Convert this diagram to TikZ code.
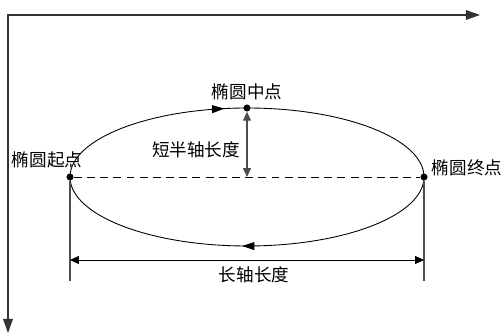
\documentclass[tikz,border=0pt]{standalone}
\usepackage{fontspec}
\newfontfamily\cjk{Noto Sans CJK SC}
\usetikzlibrary{positioning, arrows.meta, calc, decorations.markings}

\begin{document}
\begin{tikzpicture}[x=0.02cm, y=0.02cm,
  >={Triangle[length=5pt, width=4.5pt]},
  lbl/.style={font=\cjk\fontsize{10pt}{12pt}\selectfont, inner sep=0pt},
  pt/.style={circle, fill, inner sep=0pt, minimum size=4pt},
  ext/.style={draw=gray!60!black, line width=0.6pt},
  axis/.style={line width=0.6pt, draw=black!80,
    {Triangle[length=8pt, width=5.5pt]}-{Triangle[length=8pt, width=5.5pt]}},
  orbit/.style={line width=0.5pt, postaction={decorate}, decoration={markings,
    mark=at position 0.222 with {\arrow{Triangle[length=7pt, width=4.5pt]}},
    mark=at position 0.756 with {\arrow{Triangle[length=7pt, width=4.5pt]}}}},
]
  \useasboundingbox (0,0) rectangle (502,334);
  \coordinate (xe) at (480,319);
  \coordinate (ye) at (8,1);
  \draw[axis] (xe) -| (ye);

  \coordinate (C) at (247,157);
  \draw[orbit] (70,157) arc[start angle=180, end angle=-180,
    x radius=177, y radius=69];
  \node[pt] (start) at (70,157) {};
  \node[pt] (mid) at (247,226) {};
  \node[pt] (end) at (424,157) {};
  \draw[dashed, dash pattern=on 4.5pt off 3pt, line width=0.5pt] (start) -- (end);
  \draw[ext, <->] (mid) -- (C);

  \coordinate (sb) at (70,53);
  \coordinate (eb) at (424,53);
  \coordinate (dl) at (70,74);
  \coordinate (dr) at (424,74);
  \draw[ext] (start) -- (sb);
  \draw[ext] (end) -- (eb);
  \draw[<->, line width=0.5pt] (dl) -- (dr);

  \node[lbl] (startlbl) at (47,174) {椭圆起点};
  \node[lbl] (midlbl) at (247,242) {椭圆中点};
  \node[lbl] (endlbl) at (467,166) {椭圆终点};
  \node[lbl] (short) at (196,184) {短半轴长度};
  \node[lbl] (long) at (254,59) {长轴长度};
\end{tikzpicture}
\end{document}
